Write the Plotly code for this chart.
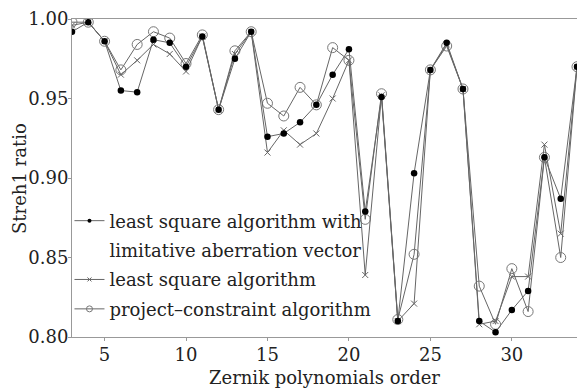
import plotly.graph_objects as go

orders = list(range(3, 35))

ls_limit = [0.992, 0.998, 0.986, 0.955, 0.954, 0.987, 0.985, 0.970, 0.989, 0.943,
            0.975, 0.992, 0.926, 0.928, 0.935, 0.946, 0.965, 0.981, 0.879, 0.951,
            0.810, 0.903, 0.968, 0.985, 0.956, 0.810, 0.803, 0.817, 0.829, 0.913,
            0.887, 0.970]

ls_plain = [0.996, 0.998, 0.986, 0.965, 0.974, 0.984, 0.978, 0.967, 0.989, 0.943,
            0.978, 0.992, 0.916, 0.930, 0.921, 0.928, 0.950, 0.974, 0.839, 0.952,
            0.810, 0.821, 0.968, 0.984, 0.956, 0.808, 0.810, 0.838, 0.838, 0.921,
            0.865, 0.970]

proj_con = [0.998, 0.998, 0.986, 0.968, 0.984, 0.992, 0.988, 0.972, 0.990, 0.943,
            0.980, 0.992, 0.947, 0.939, 0.957, 0.946, 0.982, 0.974, 0.874, 0.953,
            0.811, 0.852, 0.968, 0.983, 0.956, 0.832, 0.808, 0.843, 0.816, 0.913,
            0.850, 0.970]

names = ["least square algorithm with",
         "least square algorithm",
         "project\u2013constraint algorithm"]
name_cont = "limitative aberration vector"

x_ticks = [5, 10, 15, 20, 25, 30]
y_ticks = [0.80, 0.85, 0.90, 0.95, 1.00]
y_ticklabels = ["0.80", "0.85", "0.90", "0.95", "1.00"]

FONT = "DejaVu Serif"
FS = 18
LINE = "#666666"
TXT = "#222222"

fig = go.Figure()

styles = [
    dict(symbol="circle", size=6.5, color="#000000", line=dict(width=0)),
    dict(symbol="x-thin", size=6, color="#666666", line=dict(width=1, color="#666666")),
    dict(symbol="circle-open", size=10, color="#777777", line=dict(width=1, color="#777777")),
]
leg_styles = [
    dict(symbol="circle", size=4, color="#000000", line=dict(width=0)),
    dict(symbol="x-thin", size=4, color="#666666", line=dict(width=1, color="#666666")),
    dict(symbol="circle-open", size=6, color="#777777", line=dict(width=1, color="#777777")),
]

# draw order: circles underneath, then crosses, then filled dots on top
for idx in [2, 1, 0]:
    series = [ls_limit, ls_plain, proj_con][idx]
    fig.add_trace(go.Scatter(
        x=orders, y=series, mode="lines+markers",
        line=dict(color=LINE, width=1),
        marker=styles[idx], showlegend=False, hoverinfo="skip"))

# legend entries
fig.add_trace(go.Scatter(x=[None], y=[None], mode="lines+markers", name=names[0],
                         legendgroup="g0", line=dict(color=LINE, width=1),
                         marker=leg_styles[0]))
fig.add_trace(go.Scatter(x=[None], y=[None], mode="lines", name=name_cont,
                         legendgroup="g0b", line=dict(color="rgba(0,0,0,0)", width=0)))
fig.add_trace(go.Scatter(x=[None], y=[None], mode="lines+markers", name=names[1],
                         legendgroup="g1", line=dict(color=LINE, width=1),
                         marker=leg_styles[1]))
fig.add_trace(go.Scatter(x=[None], y=[None], mode="lines+markers", name=names[2],
                         legendgroup="g2", line=dict(color=LINE, width=1),
                         marker=leg_styles[2]))

fig.add_annotation(text="Streh1 ratio", textangle=-90, xref="paper", yref="paper",
                   x=-0.105, y=0.5, xanchor="center", yanchor="middle",
                   showarrow=False, font=dict(family=FONT, size=FS, color=TXT))

fig.update_layout(
    width=577, height=388,
    margin=dict(l=72, r=0, t=19, b=51),
    paper_bgcolor="white", plot_bgcolor="white",
    font=dict(family=FONT, size=FS, color=TXT),
    showlegend=True,
    legend=dict(x=-0.005, y=0.03, xanchor="left", yanchor="bottom",
                bgcolor="rgba(0,0,0,0)", font=dict(family=FONT, size=FS, color=TXT),
                tracegroupgap=3, itemwidth=30),
    xaxis=dict(range=[3, 34], tickmode="array", tickvals=x_ticks,
               showline=True, linecolor="#999999", linewidth=1, mirror=True,
               ticks="outside", ticklen=3, tickcolor="#999999",
               ticklabelstandoff=-2,
               showgrid=False, zeroline=False,
               title=dict(text="Zernik polynomials order", standoff=8,
                          font=dict(family=FONT, size=FS, color=TXT))),
    yaxis=dict(range=[0.80, 1.00], tickmode="array", tickvals=y_ticks,
               ticktext=y_ticklabels,
               showline=True, linecolor="#999999", linewidth=1,
               ticks="outside", ticklen=3, tickcolor="#999999",
               ticklabelstandoff=-4,
               showgrid=False, zeroline=False),
)

fig.write_html("out.html")
